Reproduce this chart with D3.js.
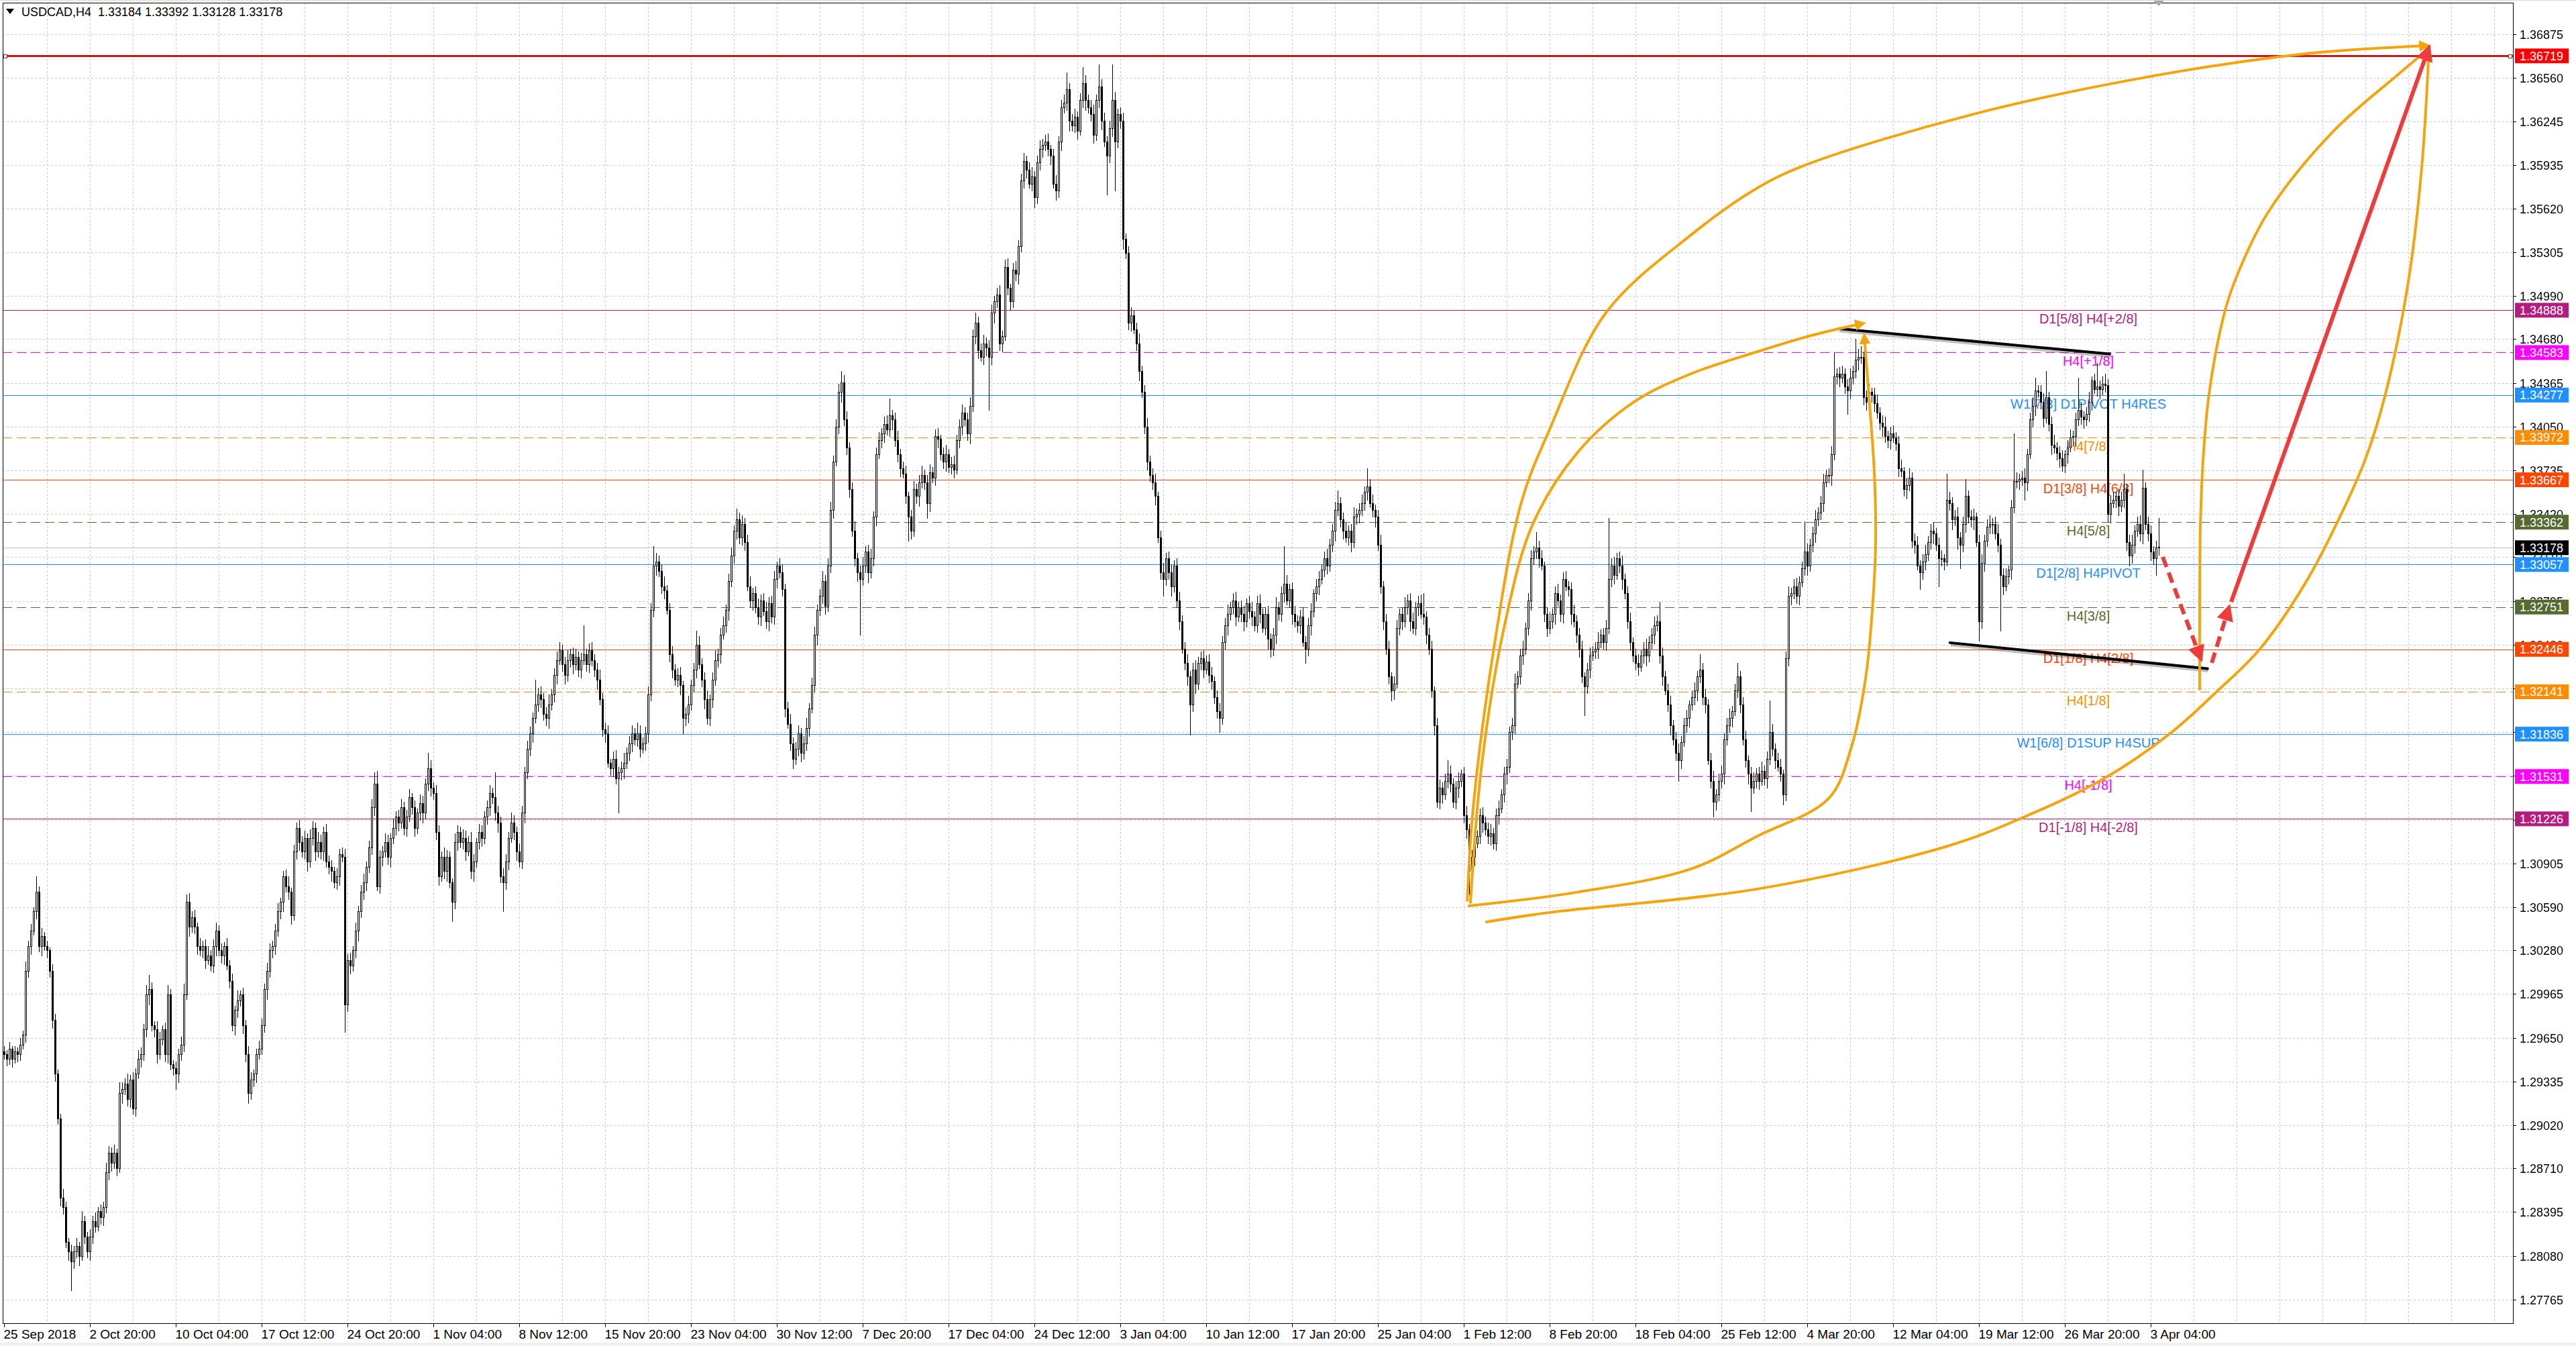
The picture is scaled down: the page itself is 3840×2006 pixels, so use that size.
<!DOCTYPE html>
<html><head><meta charset="utf-8">
<script src="https://cdn.jsdelivr.net/npm/d3@7/dist/d3.min.js"></script>
<style>
html,body{margin:0;padding:0;background:#ffffff;overflow:hidden}
svg{display:block}
text{font-family:"Liberation Sans",Arial,sans-serif}
</style></head>
<body><svg id="c" width="3840" height="2006"></svg>
<script>
// ================= DATA =================
const chartTitle = "USDCAD,H4";
const lastOHLC = [1.33184, 1.33392, 1.33128, 1.33178];
const firstOpen = 12955; // 1e-4 units
// closes, 1e-4 units (12953 = 1.2953)
const closes = [
12953,12950,12957,12950,12955,12953,12960,12967,13013,13031,13042,13056,13070,13031,13038,13031,13028,13013,12978,12939,
12907,12850,12843,12818,12811,12804,12811,12815,12808,12833,12822,12811,12822,12833,12829,12840,12836,12843,12868,12882,
12875,12882,12871,12925,12928,12932,12921,12935,12914,12939,12950,12953,12971,12996,13000,12974,12971,12953,12964,12971,
12953,12996,12946,12943,12939,12953,12960,12996,13063,13045,13052,13045,13031,13028,13031,13021,13024,13017,13031,13042,
13028,13024,13031,13017,13006,12974,12985,12992,12996,12974,12953,12925,12935,12939,12953,12957,12974,13000,13013,13028,
13031,13042,13056,13063,13081,13074,13070,13053,13099,13116,13106,13099,13109,13092,13109,13116,13099,13106,13099,13113,
13092,13088,13085,13077,13081,13097,13095,12989,13021,13017,13028,13042,13056,13070,13077,13088,13102,13131,13148,13074,
13095,13099,13106,13095,13109,13116,13124,13120,13131,13116,13124,13138,13131,13116,13127,13134,13127,13148,13159,13145,
13141,13113,13081,13095,13085,13095,13077,13063,13106,13113,13106,13109,13099,13106,13085,13092,13106,13113,13109,13124,
13131,13141,13138,13127,13120,13081,13077,13092,13109,13120,13113,13099,13092,13127,13156,13173,13184,13195,13205,13212,
13209,13198,13195,13205,13212,13226,13237,13244,13234,13226,13237,13241,13234,13239,13230,13237,13241,13234,13244,13237,
13230,13223,13209,13187,13184,13163,13159,13166,13152,13156,13159,13163,13170,13177,13184,13180,13184,13173,13177,13184,
13212,13273,13305,13308,13301,13290,13287,13273,13241,13230,13223,13226,13219,13195,13198,13205,13219,13230,13248,13234,
13223,13209,13195,13209,13223,13237,13241,13255,13262,13273,13294,13312,13330,13338,13325,13335,13322,13290,13280,13285,
13275,13268,13280,13272,13265,13278,13268,13295,13305,13300,13288,13202,13191,13177,13166,13173,13184,13170,13177,13188,
13202,13219,13255,13273,13283,13294,13276,13305,13345,13380,13405,13430,13437,13410,13390,13360,13330,13310,13300,13295,
13305,13315,13300,13310,13340,13385,13395,13400,13407,13403,13413,13410,13395,13385,13375,13371,13355,13340,13330,13360,
13355,13365,13370,13365,13350,13372,13368,13398,13396,13385,13380,13385,13376,13378,13374,13395,13405,13415,13410,13400,
13420,13470,13480,13460,13455,13465,13462,13455,13487,13495,13500,13465,13470,13520,13505,13495,13518,13515,13535,13582,
13596,13590,13580,13585,13570,13595,13605,13608,13610,13605,13600,13580,13575,13610,13635,13638,13648,13625,13622,13628,
13618,13640,13652,13640,13635,13630,13615,13640,13650,13625,13610,13600,13620,13640,13610,13630,13625,13540,13530,13480,
13485,13475,13465,13445,13430,13405,13380,13370,13365,13355,13325,13300,13295,13310,13300,13290,13305,13280,13265,13245,
13235,13225,13205,13230,13220,13235,13238,13230,13236,13226,13222,13210,13200,13195,13250,13262,13270,13275,13280,13268,
13275,13270,13265,13278,13272,13268,13262,13278,13270,13260,13270,13252,13245,13255,13275,13270,13285,13292,13280,13288,
13270,13265,13262,13268,13250,13245,13262,13272,13285,13290,13295,13302,13310,13305,13320,13330,13345,13350,13338,13330,
13325,13330,13322,13340,13342,13345,13350,13358,13362,13350,13345,13340,13320,13290,13265,13245,13225,13215,13220,13260,
13270,13265,13275,13280,13265,13260,13275,13278,13270,13268,13255,13245,13215,13190,13135,13145,13140,13150,13155,13148,
13135,13145,13150,13155,13125,13115,13085,13095,13105,13110,13125,13120,13115,13110,13112,13105,13125,13130,13140,13155,
13160,13185,13190,13220,13225,13240,13245,13260,13280,13310,13315,13318,13310,13305,13270,13260,13265,13270,13285,13280,
13270,13295,13290,13288,13270,13265,13255,13245,13225,13218,13230,13240,13243,13245,13250,13255,13250,13260,13295,13305,
13298,13310,13305,13295,13285,13265,13250,13240,13235,13232,13240,13245,13240,13250,13255,13262,13265,13240,13225,13215,
13205,13190,13180,13170,13165,13178,13190,13195,13205,13210,13215,13225,13230,13210,13205,13165,13150,13135,13140,13150,
13155,13180,13190,13195,13200,13215,13225,13205,13180,13165,13155,13145,13150,13155,13150,13157,13152,13166,13185,13173,
13165,13160,13155,13140,13238,13283,13285,13290,13283,13293,13303,13315,13305,13320,13328,13338,13343,13350,13365,13370,
13370,13385,13441,13443,13440,13443,13434,13431,13440,13445,13453,13455,13455,13426,13423,13430,13428,13422,13415,13408,
13405,13398,13395,13400,13397,13393,13375,13373,13360,13363,13368,13323,13320,13305,13300,13308,13313,13322,13330,13328,
13320,13310,13310,13308,13352,13350,13338,13340,13325,13320,13335,13355,13340,13338,13340,13322,13265,13307,13323,13333,
13335,13335,13328,13320,13298,13290,13297,13302,13347,13366,13366,13367,13368,13365,13385,13410,13420,13431,13430,13423,
13411,13426,13407,13392,13390,13386,13382,13377,13385,13390,13397,13398,13410,13417,13412,13410,13414,13423,13438,13432,
13434,13432,13436,13435,13342,13350,13352,13355,13348,13352,13360,13322,13312,13320,13330,13335,13328,13361,13335,13328,
13315,13310,13318,13318];
// upper wick above the body, pips
const hiWick = [
4,3,5,2,4,3,5,3,7,4,5,3,11,4,6,3,4,2,5,4,
3,3,6,4,3,5,4,6,3,7,4,3,5,4,6,3,5,4,7,5,
4,6,3,8,5,4,7,3,5,4,6,5,4,7,10,5,3,6,5,3,
5,7,4,3,5,4,6,8,5,6,4,5,3,6,4,5,7,4,5,6,
4,5,3,6,4,5,3,7,3,5,4,6,5,3,4,6,5,4,6,5,
4,5,6,3,4,5,7,3,5,4,6,4,5,3,6,5,4,7,5,4,
6,4,5,3,6,4,5,6,4,5,3,6,4,5,6,4,5,6,8,9,
5,4,6,5,3,7,4,5,6,4,5,6,3,5,3,6,5,4,11,6,
4,6,5,4,7,5,4,3,6,5,4,6,5,4,7,5,3,6,5,4,
5,6,4,18,5,4,6,5,4,7,5,4,6,5,4,6,5,4,18,5,
6,4,5,7,4,5,6,6,4,5,7,4,5,6,4,5,21,4,5,6,
4,5,7,4,5,6,3,5,6,4,5,7,4,5,6,4,8,6,4,5,
6,5,14,6,4,5,7,4,5,6,4,5,6,3,5,6,4,5,10,6,
4,5,6,3,5,7,4,5,6,4,5,6,4,8,5,6,4,5,7,4,
5,6,4,5,7,4,5,6,3,5,6,4,5,7,4,5,6,4,5,7,
4,5,6,4,5,7,4,5,6,4,5,6,8,5,6,4,5,7,4,5,
6,4,5,7,4,5,6,4,5,6,12,4,5,7,4,5,6,3,5,6,
4,5,7,4,5,6,4,5,6,3,5,7,4,5,6,4,5,6,4,5,
6,5,7,4,5,6,4,5,6,4,5,7,4,5,6,3,5,6,4,5,
6,4,5,7,4,5,6,4,5,6,3,5,6,4,5,6,12,4,5,6,
4,5,12,6,4,5,7,4,16,5,6,4,5,26,6,4,5,6,4,5,
6,4,5,7,4,5,6,4,5,6,3,5,7,4,5,6,4,5,6,4,
5,6,4,5,7,4,5,6,4,5,6,3,5,6,4,5,7,4,5,6,
4,5,6,3,5,7,4,5,6,4,5,6,4,5,7,4,5,27,6,4,
5,6,4,5,7,4,5,6,3,5,6,4,5,7,4,5,6,9,4,5,
6,4,5,7,4,5,6,4,13,5,6,4,5,7,4,5,6,3,5,6,
4,5,7,4,5,6,4,5,6,15,4,5,6,3,5,6,4,5,10,6,
4,5,6,3,5,7,4,5,6,4,5,6,4,5,7,4,5,6,4,5,
6,4,5,7,4,5,6,4,5,6,4,11,5,6,3,5,6,4,5,7,
4,5,6,4,5,7,4,5,6,3,5,6,4,5,7,4,5,6,44,5,
6,4,5,7,4,5,6,3,5,6,4,5,7,4,5,6,4,14,6,4,
5,6,4,5,7,4,5,6,3,5,6,4,11,5,6,4,5,7,4,5,
6,4,5,7,4,5,10,4,5,6,3,5,6,4,5,7,4,5,23,6,
4,5,6,3,5,7,4,5,6,4,5,22,6,4,5,7,4,5,6,4,
5,6,17,4,5,6,4,5,7,4,15,6,8,4,5,6,3,5,6,4,
5,7,4,5,6,4,5,6,3,5,7,4,5,6,4,5,7,4,5,6,
4,5,6,3,19,6,4,5,7,4,5,12,4,5,6,3,5,6,4,5,
6,4,5,7,4,5,6,3,5,34,6,4,5,7,4,5,6,9,4,5,
6,19,4,5,7,4,5,6,3,5,6,4,5,23,6,4,5,7,3,5,
17,4,5,7,4,5,6,3,5,6,11,4,5,7,4,5,6,13,4,5,
6,4,5,21];
// lower wick below the body, pips
const loWick = [
3,5,4,6,3,5,4,3,5,4,6,3,5,4,7,3,5,4,6,5,
4,6,5,4,6,21,5,4,7,3,5,4,6,5,4,3,5,6,4,5,
6,4,5,3,7,4,5,6,4,5,3,6,4,5,7,4,5,6,3,4,
5,6,4,5,11,6,4,5,3,7,4,5,6,4,5,6,3,4,5,7,
4,5,6,3,5,4,7,5,4,6,5,7,4,5,6,3,4,5,7,4,
5,6,4,5,7,4,5,6,3,5,6,4,5,7,4,5,6,4,5,6,
4,5,7,4,5,6,3,20,5,6,4,5,7,4,5,6,4,5,6,3,
5,6,4,5,7,4,5,6,4,5,6,3,5,6,4,5,7,4,5,6,
4,5,6,3,5,7,4,14,5,6,4,5,6,3,5,7,4,5,6,4,
5,6,4,5,7,4,21,5,6,3,5,6,4,5,7,4,5,6,3,5,
6,4,5,7,4,5,6,3,5,6,4,5,7,4,5,6,3,5,6,4,
5,7,4,5,6,3,5,6,4,25,5,7,4,5,6,4,5,6,3,5,
6,4,5,7,4,5,6,3,5,6,4,5,7,11,5,6,4,5,6,3,
5,7,4,5,6,4,5,6,3,5,7,4,5,6,4,5,6,3,5,7,
4,5,6,3,5,7,4,5,6,4,5,6,3,5,7,4,5,6,4,5,
6,3,5,7,4,5,6,4,5,6,3,5,7,4,5,6,4,5,6,40,
4,5,7,4,5,6,3,5,6,4,5,7,4,5,6,3,5,17,6,4,
5,7,4,5,11,6,3,5,6,4,5,7,4,5,6,3,5,6,4,5,
7,4,5,6,3,5,6,38,5,7,4,5,6,3,5,6,4,5,7,4,
5,6,3,5,7,4,5,6,4,5,6,3,7,5,6,4,5,7,4,5,
6,3,5,7,4,5,6,4,5,6,3,28,5,6,35,4,5,7,4,5,
6,3,5,7,4,5,6,4,5,6,3,5,12,4,5,7,4,5,6,3,
5,6,22,5,7,4,5,6,3,5,6,4,5,10,4,5,7,4,5,6,
3,5,7,4,5,6,4,5,6,3,5,7,6,5,6,4,5,6,3,5,
7,4,5,6,3,10,5,7,4,5,6,3,5,6,4,5,7,4,5,6,
3,5,7,4,5,6,4,5,6,3,5,7,4,5,6,4,5,7,6,3,
5,6,4,5,7,4,5,6,3,5,6,4,5,7,4,5,6,3,5,6,
4,5,7,4,5,6,17,5,6,3,5,7,4,5,6,4,5,6,3,5,
7,4,5,6,3,5,6,4,5,7,4,5,6,3,5,6,4,5,7,4,
5,6,3,5,7,4,5,6,4,21,5,6,3,5,7,4,5,6,4,5,
6,3,5,7,4,5,6,4,5,6,3,5,7,4,5,6,4,5,6,3,
5,7,4,5,15,6,3,5,6,4,5,7,4,5,6,3,5,11,6,4,
5,7,4,5,6,3,5,6,4,5,7,17,4,5,6,3,5,7,4,5,
6,3,5,7,4,5,6,4,5,6,3,5,7,4,5,6,4,5,6,3,
5,7,4,5,6,3,5,17,6,4,5,7,4,5,6,3,5,6,4,5,
7,4,5,6,3,5,6,4,5,7,4,5,6,3,12,5,6,4,5,7,
4,20,5,6,3,5,7,4,8,17,5,6,4,5,7,3,14,5,6,4,
5,7,4,5,40,6,3,5,7,4,5,6,4,13,6,3,5,7,4,5,
6,3,5,7,4,5,6,4,5,6,3,5,7,4,5,6,4,5,6,3,
5,7,4,5,5,6,3,5,7,4,5,6,7,5,6,4,5,7,4,5,
6,4,12,5];

const priceTicks = [1.36875,1.36560,1.36245,1.35935,1.35620,1.35305,1.34990,1.34680,1.34365,1.34050,1.33735,1.33420,1.33110,1.32795,1.32480,1.32165,1.31850,1.31535,1.31220,1.30905,1.30590,1.30280,1.29965,1.29650,1.29335,1.29020,1.28710,1.28395,1.28080,1.27765];
const dateTicks = ["25 Sep 2018","2 Oct 20:00","10 Oct 04:00","17 Oct 12:00","24 Oct 20:00","1 Nov 04:00","8 Nov 12:00","15 Nov 20:00","23 Nov 04:00","30 Nov 12:00","7 Dec 20:00","17 Dec 04:00","24 Dec 12:00","3 Jan 04:00","10 Jan 12:00","17 Jan 20:00","25 Jan 04:00","1 Feb 12:00","8 Feb 20:00","18 Feb 04:00","25 Feb 12:00","4 Mar 20:00","12 Mar 04:00","19 Mar 12:00","26 Mar 20:00","3 Apr 04:00"];
const barsPerDateTick = 32;

const levelPrices = [1.34888,1.34583,1.34277,1.33972,1.33667,1.33362,1.33057,1.32751,1.32446,1.32141,1.31836,1.31531,1.31226];
const levelNames = ["D1[5/8] H4[+2/8]","H4[+1/8]","W1[7/8] D1PIVOT H4RES","H4[7/8]","D1[3/8] H4[6/8]","H4[5/8]","D1[2/8] H4PIVOT","H4[3/8]","D1[1/8] H4[2/8]","H4[1/8]","W1[6/8] D1SUP H4SUP","H4[-1/8]","D1[-1/8] H4[-2/8]"];
const targetPrice = 1.36719;
const bidPrice = 1.33178;
const levelLabelBar = 776.75;

// annotations: [bar index, price]
const channelUpper = [[683.75,1.34755],[784.75,1.34573]];
const channelLower = [[725.2,1.32494],[821.2,1.32307]];
const arcOuterTop = [[545.3,1.30639],[547.5,1.31305],[555,1.32426],[565.5,1.33508],[576,1.34030],[597,1.34870],[628.75,1.35431],[653.5,1.35769],[672,1.35938],[733.25,1.36296],[794.5,1.36552],[855.75,1.36730],[903,1.36793]];
const arcOuterBottom = [[552.5,1.30484],[576,1.30552],[653.5,1.30721],[723.5,1.31025],[751.5,1.31228],[782.75,1.31518],[807.25,1.31841],[824,1.32131],[840.75,1.32450],[857.5,1.32919],[868.5,1.33320],[879.75,1.33803],[887.5,1.34286],[896,1.35093],[901,1.35914],[903.5,1.36687]];
const arcInnerTop = [[546.5,1.30624],[550.75,1.31624],[559.25,1.32624],[569.75,1.33349],[586.5,1.33866],[607.5,1.34228],[628.75,1.34431],[653.5,1.34590],[673.5,1.34706],[692.75,1.34793]];
const arcInnerBottom = [[546,1.30600],[586,1.30697],[628.75,1.30866],[653.5,1.31102],[680,1.31373],[688.5,1.31745],[693.75,1.32238],[696.25,1.32730],[697.5,1.33223],[697,1.33716],[695.25,1.34209],[693.25,1.34701]];
const arcTarget = [[818.25,1.32160],[818.25,1.32774],[818.5,1.33320],[819.5,1.33803],[821.75,1.34286],[827.25,1.34851],[831.25,1.35093],[843.5,1.35585],[868,1.36175],[892.5,1.36590],[903.5,1.36769]];
const arrowDown = [[804.5,1.33112],[818.5,1.32387]];
const arrowUpShort = [[822.75,1.32349],[829,1.32739]];
const arrowUpLong = [[830,1.32788],[903.5,1.36769]];

// ================= DRAWING =================
const svg = d3.select("#c");
const plot = {left:4, top:4, right:3746, bottom:1972};
const x = d3.scaleLinear().domain([0, 935]).range([6, 3746]);
const y = d3.scaleLinear().domain([1.27765, 1.36875]).range([1936.8, 51.0]);
const fmt = d3.format(".5f");

svg.append("rect").attr("width",3840).attr("height",2006).attr("fill","#ffffff");
svg.append("rect").attr("x",0).attr("y",2001).attr("width",3840).attr("height",5).attr("fill","#f0f0f0");
svg.append("rect").attr("x",0).attr("y",0).attr("width",3840).attr("height",1).attr("fill","#d8d8d8");

const defs = svg.append("defs");
defs.append("clipPath").attr("id","clip").append("rect")
  .attr("x",plot.left).attr("y",plot.top).attr("width",plot.right-plot.left).attr("height",plot.bottom-plot.top);
function marker(id,color){
  defs.append("marker").attr("id",id).attr("viewBox","0 0 10 10").attr("refX",7).attr("refY",5)
    .attr("markerWidth",4.2).attr("markerHeight",4.2).attr("orient","auto").attr("markerUnits","strokeWidth")
    .append("path").attr("d","M0,0 L10,5 L0,10 z").attr("fill",color);
}
const ORANGE = "#F4A40C", RED = "#EC3C3C";
marker("mO", ORANGE); marker("mR", RED);

const g = svg.append("g").attr("clip-path","url(#clip)");

// grid
const grid = g.append("g").attr("stroke","#c8c8c8").attr("stroke-width",1).attr("stroke-dasharray","3,3").attr("shape-rendering","crispEdges");
priceTicks.forEach(p=>{ const yy=Math.round(y(p))+0.5; grid.append("line").attr("x1",plot.left).attr("x2",plot.right).attr("y1",yy).attr("y2",yy); });
d3.range(16, 935, 16).forEach(b=>{ const xx=Math.round(x(b))+0.5; grid.append("line").attr("x1",xx).attr("x2",xx).attr("y1",plot.top).attr("y2",plot.bottom); });

// level lines
const levelColors = ["#B41C80","#FF00FF","#1E90FF","#FF8C00","#FF4500","#556B2F","#1E90FF","#556B2F","#FF4500","#FF8C00","#1E90FF","#FF00FF","#B41C80"];
const levelDashed = [false,true,false,true,false,true,false,true,false,true,false,true,false];
const lv = g.append("g").attr("shape-rendering","crispEdges");
levelPrices.forEach((p,i)=>{
  const yy=Math.round(y(p))+0.5;
  lv.append("line").attr("x1",plot.left).attr("x2",plot.right).attr("y1",yy).attr("y2",yy)
    .attr("stroke",levelColors[i]).attr("stroke-width",1).attr("stroke-dasharray",levelDashed[i]?"14,7":null);
});
lv.append("line").attr("x1",plot.left).attr("x2",plot.right).attr("y1",Math.round(y(bidPrice))+0.5).attr("y2",Math.round(y(bidPrice))+0.5)
  .attr("stroke","#c0c0c0").attr("stroke-width",1);
const ty = Math.round(y(targetPrice))+0.5;
lv.append("line").attr("x1",plot.left).attr("x2",plot.right).attr("y1",ty).attr("y2",ty).attr("stroke","#C81818").attr("stroke-width",2.2);
lv.append("rect").attr("x",plot.left+1).attr("y",ty-2.5).attr("width",5).attr("height",5).attr("fill","#fff").attr("stroke","#C81818");
lv.append("rect").attr("x",plot.right-7).attr("y",ty-2.5).attr("width",5).attr("height",5).attr("fill","#fff").attr("stroke","#C81818");

// level texts
const lt = g.append("g").attr("font-size",20).attr("text-anchor","middle");
levelPrices.forEach((p,i)=>{
  lt.append("text").attr("x",x(levelLabelBar)).attr("y",y(p)+20).attr("fill",levelColors[i]).text(levelNames[i]);
});

// candles
const bars = closes.map((c,i)=>{
  const o = i===0 ? firstOpen : closes[i-1];
  return {i, o:o/1e4, c:c/1e4, h:(Math.max(o,c)+hiWick[i])/1e4, l:(Math.min(o,c)-loWick[i])/1e4};
});
const last = bars[bars.length-1];
last.o = lastOHLC[0]; last.h = lastOHLC[1]; last.l = lastOHLC[2]; last.c = lastOHLC[3];
const cg = g.append("g").attr("shape-rendering","crispEdges");
cg.selectAll("line.w").data(bars).join("line").attr("class","w")
  .attr("x1",d=>Math.round(x(d.i))+0.5).attr("x2",d=>Math.round(x(d.i))+0.5)
  .attr("y1",d=>Math.round(y(d.h))).attr("y2",d=>Math.round(y(d.l))+1)
  .attr("stroke","#000").attr("stroke-width",1);
cg.selectAll("rect.b").data(bars).join("rect").attr("class","b")
  .attr("x",d=>Math.round(x(d.i))-0.5)
  .attr("y",d=>Math.round(y(Math.max(d.o,d.c)))+0.5)
  .attr("width",2)
  .attr("height",d=>Math.max(0.5, Math.round(y(Math.min(d.o,d.c)))-Math.round(y(Math.max(d.o,d.c)))))
  .attr("fill",d=>d.c>d.o?"#ffffff":"#000000").attr("stroke","#000").attr("stroke-width",1);

// channel lines
const ln = d3.line().x(d=>x(d[0])).y(d=>y(d[1]));
[channelUpper, channelLower].forEach(seg=>{
  g.append("path").attr("d",ln(seg)).attr("stroke","rgba(0,0,0,0.25)").attr("stroke-width",7).attr("fill","none").attr("transform","translate(1,2)");
  g.append("path").attr("d",ln(seg)).attr("stroke","#000").attr("stroke-width",4).attr("fill","none").attr("stroke-linecap","round");
});

// orange arcs
const curve = d3.line().x(d=>x(d[0])).y(d=>y(d[1])).curve(d3.curveCatmullRom.alpha(0.5));
[[arcOuterTop,true],[arcOuterBottom,false],[arcInnerTop,true],[arcInnerBottom,true],[arcTarget,false]].forEach(([pts,arrow])=>{
  g.append("path").attr("d",curve(pts)).attr("fill","none").attr("stroke",ORANGE).attr("stroke-width",4)
    .attr("stroke-linecap","round").attr("marker-end",arrow?"url(#mO)":null);
});

// red arrows
g.append("path").attr("d",ln(arrowDown)).attr("stroke",RED).attr("stroke-width",6).attr("stroke-dasharray","16,9").attr("fill","none").attr("marker-end","url(#mR)");
g.append("path").attr("d",ln(arrowUpShort)).attr("stroke",RED).attr("stroke-width",6).attr("stroke-dasharray","16,9").attr("fill","none").attr("marker-end","url(#mR)");
g.append("path").attr("d",ln(arrowUpLong)).attr("stroke",RED).attr("stroke-width",6).attr("fill","none").attr("marker-end","url(#mR)");

// frame
svg.append("rect").attr("x",plot.left+0.5).attr("y",plot.top+0.5).attr("width",plot.right-plot.left).attr("height",plot.bottom-plot.top)
  .attr("fill","none").attr("stroke","#000").attr("stroke-width",1).attr("shape-rendering","crispEdges");
svg.append("path").attr("d",`M${x(803)-8},1 L${x(803)+8},1 L${x(803)},9 Z`).attr("fill","#a8a8a8");

// right axis: tick labels masked where a price box covers them
const boxPrices = levelPrices.concat([targetPrice, bidPrice]);
const boxColors = levelColors.concat(["#FF0000","#000000"]);
const mask = defs.append("mask").attr("id","axmask").attr("maskUnits","userSpaceOnUse")
  .attr("x",plot.right).attr("y",0).attr("width",3840-plot.right).attr("height",2006);
mask.append("rect").attr("x",plot.right).attr("y",0).attr("width",3840-plot.right).attr("height",2006).attr("fill","#fff");
boxPrices.forEach(p=>mask.append("rect").attr("x",plot.right+3).attr("y",y(p)-11).attr("width",80).attr("height",22).attr("fill","#000"));

const ax = svg.append("g").attr("font-size",18).attr("fill","#000");
const tickG = ax.append("g").attr("mask","url(#axmask)");
priceTicks.forEach(p=>{
  const yy=Math.round(y(p))+0.5;
  ax.append("line").attr("x1",plot.right).attr("x2",plot.right+5).attr("y1",yy).attr("y2",yy).attr("stroke","#000").attr("shape-rendering","crispEdges");
  tickG.append("text").attr("x",plot.right+10).attr("y",yy+6.5).text(fmt(p));
});
boxPrices.forEach((p,i)=>{
  const yy=y(p);
  ax.append("rect").attr("x",plot.right+3).attr("y",yy-11).attr("width",80).attr("height",22).attr("fill",boxColors[i]);
  ax.append("text").attr("x",plot.right+10).attr("y",yy+6.5).attr("fill","#fff").text(fmt(p));
});

// bottom axis
const bx = svg.append("g").attr("font-size",19).attr("fill","#000");
dateTicks.forEach((t,k)=>{
  const xx=Math.round(x(k*barsPerDateTick))+0.5;
  bx.append("line").attr("x1",xx).attr("x2",xx).attr("y1",plot.bottom).attr("y2",plot.bottom+6).attr("stroke","#000").attr("shape-rendering","crispEdges");
  bx.append("text").attr("x",xx-1).attr("y",1995).text(t);
});

// title
svg.append("path").attr("d","M9,13 L21,13 L15,21 Z").attr("fill","#000");
svg.append("text").attr("x",32).attr("y",24).attr("font-size",18).attr("fill","#000").style("white-space","pre")
  .text(chartTitle+"  "+lastOHLC.map(v=>v.toFixed(5)).join(" "));
</script>
</body></html>
